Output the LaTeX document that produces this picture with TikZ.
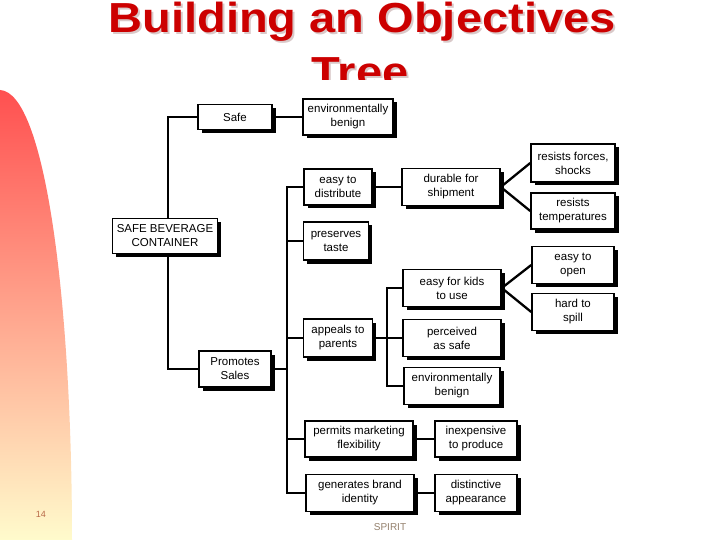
\documentclass[tikz,border=0pt]{standalone}
\usepackage{fontspec}
\setmainfont{Liberation Sans}
\usepackage{xcolor}
\usetikzlibrary{arrows.meta,positioning,shadows,backgrounds}
\definecolor{titlered}{HTML}{CC0000}
\definecolor{titleshade}{HTML}{D9C9C9}
\definecolor{pagebrown}{HTML}{B86A48}
\newcommand{\wide}[1]{\scalebox{1.12}[1]{#1}}

\begin{document}
\begin{tikzpicture}[x=1pt,y=-1pt,>=Latex]
\tikzstyle{obj}=[rectangle,draw=black,line width=1.5pt,fill=white,align=center,inner sep=1pt,
  font=\fontsize{11.5}{14}\selectfont,
  drop shadow={shadow xshift=3.5pt,shadow yshift=-3.5pt,fill=black,opacity=1}]
\tikzstyle{link}=[line width=2.3pt]
\tikzstyle{head}=[anchor=base,inner sep=0pt,font=\bfseries\fontsize{42}{50}\selectfont]
\useasboundingbox (0,0) rectangle (720,540);
% left band
\shade[top color={rgb,255:red,255;green,80;blue,80},middle color={rgb,255:red,255;green,170;blue,140},bottom color={rgb,255:red,255;green,251;blue,204}]
  (0,90) .. controls (45,92) and (72,300) .. (72,540) -- (0,540) -- cycle;
% title
\node[head,text=titleshade] at (364,35) {\wide{Building an Objectives}};
\node[head,text=titlered] (title) at (362,33) {\wide{Building an Objectives}};
\begin{scope}
\clip (0,0) rectangle (720,80);
\node[head,text=titleshade] at (362,89) {\wide{Tree}};
\node[head,text=titlered] (tree) at (360,87) {\wide{Tree}};
\end{scope}
% tree
\node[obj,minimum width=74pt,minimum height=25pt] (safe) at (235,117) {Safe};
\node[obj,minimum width=90pt,minimum height=36pt] (envA) at (348,117) {environmentally\\benign};
\node[obj,minimum width=105pt,minimum height=35pt] (root) at (165,236) {SAFE BEVERAGE\\CONTAINER};
\node[obj,minimum width=72pt,minimum height=36pt] (promo) at (235,369) {Promotes\\Sales};
\node[obj,minimum width=68pt,minimum height=36pt] (distrib) at (338,187) {easy to\\distribute};
\node[obj,minimum width=65pt,minimum height=38pt] (taste) at (336,241) {preserves\\taste};
\node[obj,minimum width=69pt,minimum height=38pt] (parents) at (338,338) {appeals to\\parents};
\node[obj,minimum width=108pt,minimum height=36pt] (market) at (359,439) {permits marketing\\flexibility};
\node[obj,minimum width=108pt,minimum height=37pt] (brand) at (360,493) {generates brand\\identity};
\node[obj,minimum width=98pt,minimum height=37pt] (durable) at (451,187) {durable for\\shipment};
\node[obj,minimum width=84pt,minimum height=38pt] (forces) at (573,163) {resists forces,\\shocks};
\node[obj,minimum width=84pt,minimum height=36pt] (temps) at (573,211) {resists\\temperatures};
\node[obj,minimum width=98pt,minimum height=37pt] (kids) at (452,288) {easy for kids\\to use};
\node[obj,minimum width=98pt,minimum height=37pt] (perceived) at (452,338) {perceived\\as safe};
\node[obj,minimum width=96pt,minimum height=37pt] (envB) at (452,386) {environmentally\\benign};
\node[obj,minimum width=82pt,minimum height=37pt] (open) at (573,265) {easy to\\open};
\node[obj,minimum width=82pt,minimum height=37pt] (spill) at (573,312) {hard to\\spill};
\node[obj,minimum width=82pt,minimum height=36pt] (cheap) at (476,439) {inexpensive\\to produce};
\node[obj,minimum width=82pt,minimum height=37pt] (distinct) at (476,493) {distinctive\\appearance};
\coordinate (trunk) at (168,369);
\coordinate (bus) at (287,493);
\coordinate (pbus) at (387,386);
\begin{scope}[on background layer]
\draw[link] (safe.west) -| (trunk) -- (promo.west);
\end{scope}
\draw[link] (safe.east) -- (envA.west);
\draw[link] (promo.east) -- (promo.east -| bus);
\draw[link] (distrib.west) -| (bus) -- (brand.west);
\draw[link] (taste.west) -- (taste.west -| bus);
\draw[link] (parents.west) -- (parents.west -| bus);
\draw[link] (market.west) -- (market.west -| bus);
\draw[link] (distrib.east) -- (durable.west);
\draw[link] (durable.east) -- (forces.west);
\draw[link] (durable.east) -- (temps.west);
\draw[link] (parents.east) -- (perceived.west);
\draw[link] (kids.west) -| (pbus) -- (envB.west);
\draw[link] (kids.east) -- (open.west);
\draw[link] (kids.east) -- (spill.west);
\draw[link] (market.east) -- (cheap.west);
\draw[link] (brand.east) -- (distinct.west);
% footer
\node[text=pagebrown,font=\rmfamily\fontsize{9}{10}\selectfont] (page) at (41,514) {14};
\node[text=gray!70!brown,font=\fontsize{10}{12}\selectfont] (spirit) at (390,527) {SPIRIT};
\end{tikzpicture}
\end{document}
